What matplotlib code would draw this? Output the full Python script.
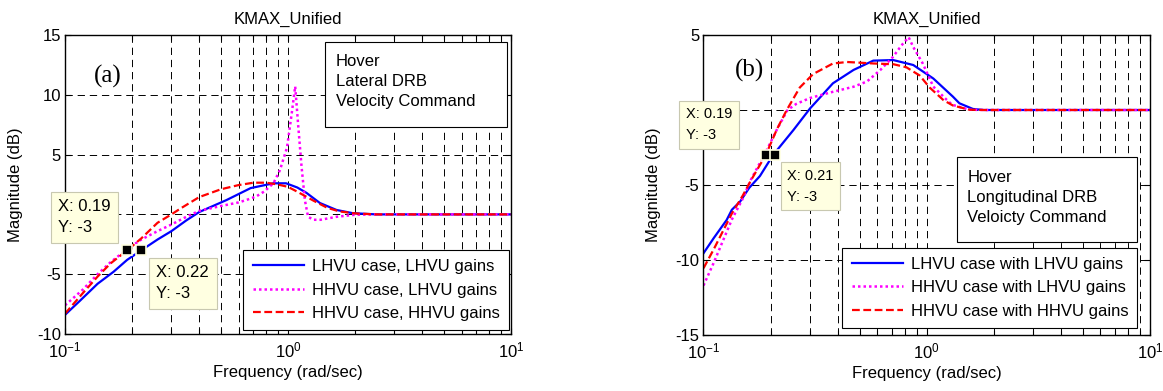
import matplotlib
matplotlib.use("Agg")
import matplotlib.pyplot as plt
from matplotlib.patches import Rectangle

plt.rcParams['font.family'] = ['Liberation Sans', 'DejaVu Sans']
plt.rcParams['mathtext.fontset'] = 'custom'
plt.rcParams['mathtext.rm'] = 'Liberation Sans'
plt.rcParams['mathtext.it'] = 'Liberation Sans:italic'
plt.rcParams['mathtext.bf'] = 'Liberation Sans:bold'
plt.rcParams['font.size'] = 12

# ---- panel (a): lateral ----
fa_blue = [0.10, 0.117, 0.14, 0.165, 0.19, 0.22, 0.26, 0.30, 0.35, 0.40, 0.53, 0.68,
           0.86, 0.98, 1.10, 1.21, 1.39, 1.65, 1.95, 2.5, 10]
da_blue = [-8.4, -7.2, -5.8, -4.8, -3.8, -3.0, -2.1, -1.4, -0.5, 0.2, 1.2, 2.2,
           2.6, 2.6, 2.25, 1.8, 0.95, 0.37, 0.1, 0.0, 0.0]
fa_mag = [0.10, 0.12, 0.14, 0.16, 0.19, 0.22, 0.26, 0.30, 0.35, 0.40, 0.50, 0.60,
          0.65, 0.72, 0.78, 0.86, 0.92, 0.99, 1.04, 1.077, 1.11, 1.15, 1.19, 1.23,
          1.30, 1.40, 1.65, 2.0, 2.5, 10]
da_mag = [-7.6, -6.3, -5.0, -4.0, -2.9, -2.1, -1.4, -0.85, -0.2, 0.3, 0.7, 1.0,
          1.2, 1.5, 1.9, 2.6, 3.7, 5.6, 8.5, 10.7, 7.5, 4.0, 1.2, -0.2,
          -0.45, -0.45, -0.2, -0.03, 0.0, 0.0]
fa_red = [0.10, 0.12, 0.14, 0.16, 0.19, 0.22, 0.26, 0.30, 0.33, 0.40, 0.50, 0.60,
          0.70, 0.80, 0.90, 1.00, 1.10, 1.30, 1.50, 1.70, 2.0, 2.5, 10]
da_red = [-8.3, -6.6, -5.2, -4.1, -3.0, -2.0, -0.7, 0.0, 0.5, 1.45, 2.1, 2.45,
          2.65, 2.65, 2.5, 2.3, 1.9, 1.15, 0.55, 0.25, 0.08, 0.0, 0.0]
labels_a = ['LHVU case, LHVU gains', 'HHVU case, LHVU gains', 'HHVU case, HHVU gains']
yticks_a = [-10, -5, 0, 5, 10, 15]
ylabels_a = ['-10', '-5', '', '5', '10', '15']   # "0" sits under a data tip
tips_a_x = [0.19, 0.22]
tips_a_y = [-3, -3]
note_a = 'Hover\nLateral DRB\nVelocity Command'

# ---- panel (b): longitudinal ----
fb_blue = [0.10, 0.111, 0.127, 0.134, 0.146, 0.16, 0.179, 0.205, 0.253, 0.30, 0.38,
           0.47, 0.576, 0.707, 0.87, 1.07, 1.31, 1.40, 1.61, 1.8, 10]
db_blue = [-9.55, -8.55, -7.33, -6.65, -6.1, -5.2, -4.4, -3.0, -1.33, 0.1, 1.78,
           2.67, 3.29, 3.33, 3.0, 2.1, 0.89, 0.45, 0.07, 0.0, 0.0]
fb_mag = [0.10, 0.111, 0.134, 0.15, 0.163, 0.19, 0.215, 0.238, 0.26, 0.30, 0.377,
          0.47, 0.54, 0.62, 0.707, 0.77, 0.83, 0.87, 0.96, 1.07, 1.23, 1.30, 1.55,
          1.8, 10]
db_mag = [-11.7, -10.2, -7.3, -5.9, -4.65, -2.8, -1.2, 0.0, 0.4, 0.8, 1.2,
          1.55, 1.9, 2.67, 3.55, 4.3, 4.85, 4.2, 3.1, 1.56, 0.67, 0.35, 0.02,
          0.0, 0.0]
fb_red = [0.10, 0.111, 0.134, 0.15, 0.163, 0.19, 0.213, 0.236, 0.27, 0.31, 0.38,
          0.44, 0.58, 0.71, 0.81, 0.93, 1.03, 1.19, 1.31, 1.55, 1.8, 10]
db_red = [-10.55, -9.3, -6.9, -5.7, -4.7, -3.0, -1.3, 0.0, 1.5, 2.4, 3.1,
          3.2, 3.1, 3.05, 2.85, 2.3, 1.5, 0.65, 0.3, 0.02, 0.0, 0.0]
labels_b = ['LHVU case with LHVU gains', 'HHVU case with LHVU gains',
            'HHVU case with HHVU gains']
yticks_b = [-15, -10, -5, 0, 5]
ylabels_b = ['-15', '-10', '-5', '', '5']
tips_b_x = [0.19, 0.21]
tips_b_y = [-3, -3]
note_b = 'Hover\nLongitudinal DRB\nVeloicty Command'

grid_ls = (0, (7.5, 5))
tip_fc = '#FFFFE1'
tip_ec = '#C8C8B0'


def style_axes(ax, ylim, yticks, ylabels):
    ax.set_xscale('log')
    ax.set_xlim(0.1, 10)
    ax.set_ylim(*ylim)
    ax.set_yticks(yticks)
    ax.set_yticklabels(ylabels)
    ax.tick_params(which='both', direction='in', top=True, right=True,
                   labelsize=12, width=0.8)
    ax.tick_params(which='major', length=4.5, pad=5)
    ax.tick_params(which='minor', length=3.5)
    ax.tick_params(axis='y', pad=3)
    ax.grid(True, which='both', axis='x', color='k', lw=0.7, ls=grid_ls)
    ax.grid(True, which='major', axis='y', color='k', lw=0.7, ls=grid_ls)
    for s in ax.spines.values():
        s.set_linewidth(1.0)
    ax.set_title('KMAX_Unified', fontsize=12, pad=8)
    ax.set_xlabel('Frequency (rad/sec)', fontsize=12, labelpad=3)
    ax.set_ylabel('Magnitude (dB)', fontsize=12, labelpad=10)


def draw_curves(ax, fb, db, fm, dm, fr, dr, labels):
    ax.plot(fb, db, color='#0000FF', lw=1.6, label=labels[0])
    ax.plot(fm, dm, color='#FF00FF', lw=1.8, ls=(0, (1, 1.2)), label=labels[1])
    ax.plot(fr, dr, color='#FF0000', lw=1.6, ls=(0, (3.5, 1.6)), label=labels[2])


def draw_legend(ax, anchor):
    leg = ax.legend(loc='lower right', bbox_to_anchor=anchor, borderaxespad=0,
                    fancybox=False, edgecolor='k', framealpha=1, fontsize=12,
                    handlelength=3.1, handletextpad=0.45, labelspacing=0.5,
                    borderpad=0.55)
    leg.get_frame().set_linewidth(0.8)


def draw_note(ax, rect, text, tx, ty):
    x0, y0, x1, y1 = rect
    ax.add_patch(Rectangle((x0, y0), x1 - x0, y1 - y0, transform=ax.transAxes,
                           fc='white', ec='k', lw=0.8, zorder=6, clip_on=False))
    ax.text(tx, ty, text, transform=ax.transAxes, ha='left', va='top',
            fontsize=12, linespacing=1.42, zorder=7)


def draw_tips(ax, xs, ys, offsets, aligns, fs, ls):
    ax.plot(xs, ys, 's', ms=7.5, mfc='k', mec=tip_fc, mew=1.2, zorder=12,
            clip_on=False)
    for x, y, off, (ha, va) in zip(xs, ys, offsets, aligns):
        ax.annotate('X: %g\nY: %g' % (x, y), xy=(x, y), xytext=off,
                    textcoords='offset pixels', ha=ha, va=va, fontsize=fs,
                    multialignment='left', linespacing=ls, zorder=11,
                    annotation_clip=False,
                    bbox=dict(boxstyle='square,pad=0.45', fc=tip_fc, ec=tip_ec,
                              lw=0.8))


fig = plt.figure(figsize=(11.63, 3.91), dpi=100)
ax1 = fig.add_axes([0.0559, 0.1458, 0.3835, 0.7647])
ax2 = fig.add_axes([0.6049, 0.1432, 0.3839, 0.7673])

# panel (a)
style_axes(ax1, (-10, 15), yticks_a, ylabels_a)
draw_curves(ax1, fa_blue, da_blue, fa_mag, da_mag, fa_red, da_red, labels_a)
draw_legend(ax1, (0.995, 0.013))
draw_note(ax1, (0.584, 0.692, 0.9906, 0.977), note_a, 0.6076, 0.938)
ax1.text(0.096, 0.863, '(a)', transform=ax1.transAxes, ha='center', va='center',
         fontsize=18, family='Liberation Serif')
draw_tips(ax1, tips_a_x, tips_a_y, [(-16.5, 15), (15, -15)],
          [('right', 'bottom'), ('left', 'top')], 12, 1.5)

# panel (b)
style_axes(ax2, (-15, 5), yticks_b, ylabels_b)
draw_curves(ax2, fb_blue, db_blue, fb_mag, db_mag, fb_red, db_red, labels_b)
draw_legend(ax2, (0.972, 0.024))
draw_note(ax2, (0.567, 0.311, 0.972, 0.592), note_b, 0.591, 0.551)
ax2.text(0.104, 0.883, '(b)', transform=ax2.transAxes, ha='center', va='center',
         fontsize=18, family='Liberation Serif')
draw_tips(ax2, tips_b_x, tips_b_y, [(-33.5, 13), (12, -14)],
          [('right', 'bottom'), ('left', 'top')], 10.5, 1.6)

fig.savefig('out.png', dpi=100)
